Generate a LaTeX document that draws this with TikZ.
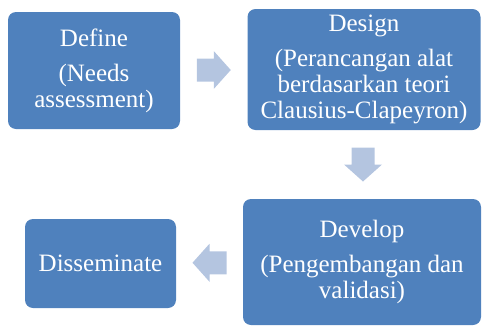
\documentclass[tikz,border=0pt]{standalone}
\usepackage{fontspec}
\setmainfont{Liberation Serif}
\usepackage{xcolor}
\usepackage{tikz}
\usetikzlibrary{calc}

\definecolor{boxblue}{HTML}{4F81BD}
\definecolor{arrowblue}{HTML}{B4C5E0}

\tikzset{
  stagebox/.style={fill=boxblue, draw=none, rounded corners=8pt, text=white,
    align=center, inner sep=0pt, font=\fontsize{25}{26}\selectfont},
  blockarrow/.pic={
    \fill[arrowblue] (-17,-11.5) -- (0,-11.5) -- (0,-19) -- (17,0)
      -- (0,19) -- (0,11.5) -- (-17,11.5) -- cycle;
  }
}

\begin{document}
\begin{tikzpicture}[x=1pt, y=-1pt]
  \useasboundingbox (0,0) rectangle (483,327);
  % Stages
  \node[stagebox, minimum width=172, minimum height=117] (define) at (94, 70.5)
    {Define\\[9pt](Needs\\assessment)};
  \node[stagebox, minimum width=233, minimum height=121] (design) at (364, 69.5)
    {Design\\[9pt](Perancangan alat\\berdasarkan teori\\Clausius-Clapeyron)};
  \node[stagebox, minimum width=238, minimum height=126] (develop) at (362, 262)
    {Develop\\[9pt](Pengembangan dan\\validasi)};
  \node[stagebox, minimum width=151, minimum height=89] (disseminate) at (100.5, 263.5)
    {Disseminate};

  % Block arrows between stages
  \pic at ($(define.east)!0.5!(design.west)$) {blockarrow};
  \pic[rotate=-90] at ($(design.south)!0.5!(develop.north)$) {blockarrow};
  \pic[rotate=180] at ($(develop.west)!0.5!(disseminate.east)$) {blockarrow};
\end{tikzpicture}
\end{document}
